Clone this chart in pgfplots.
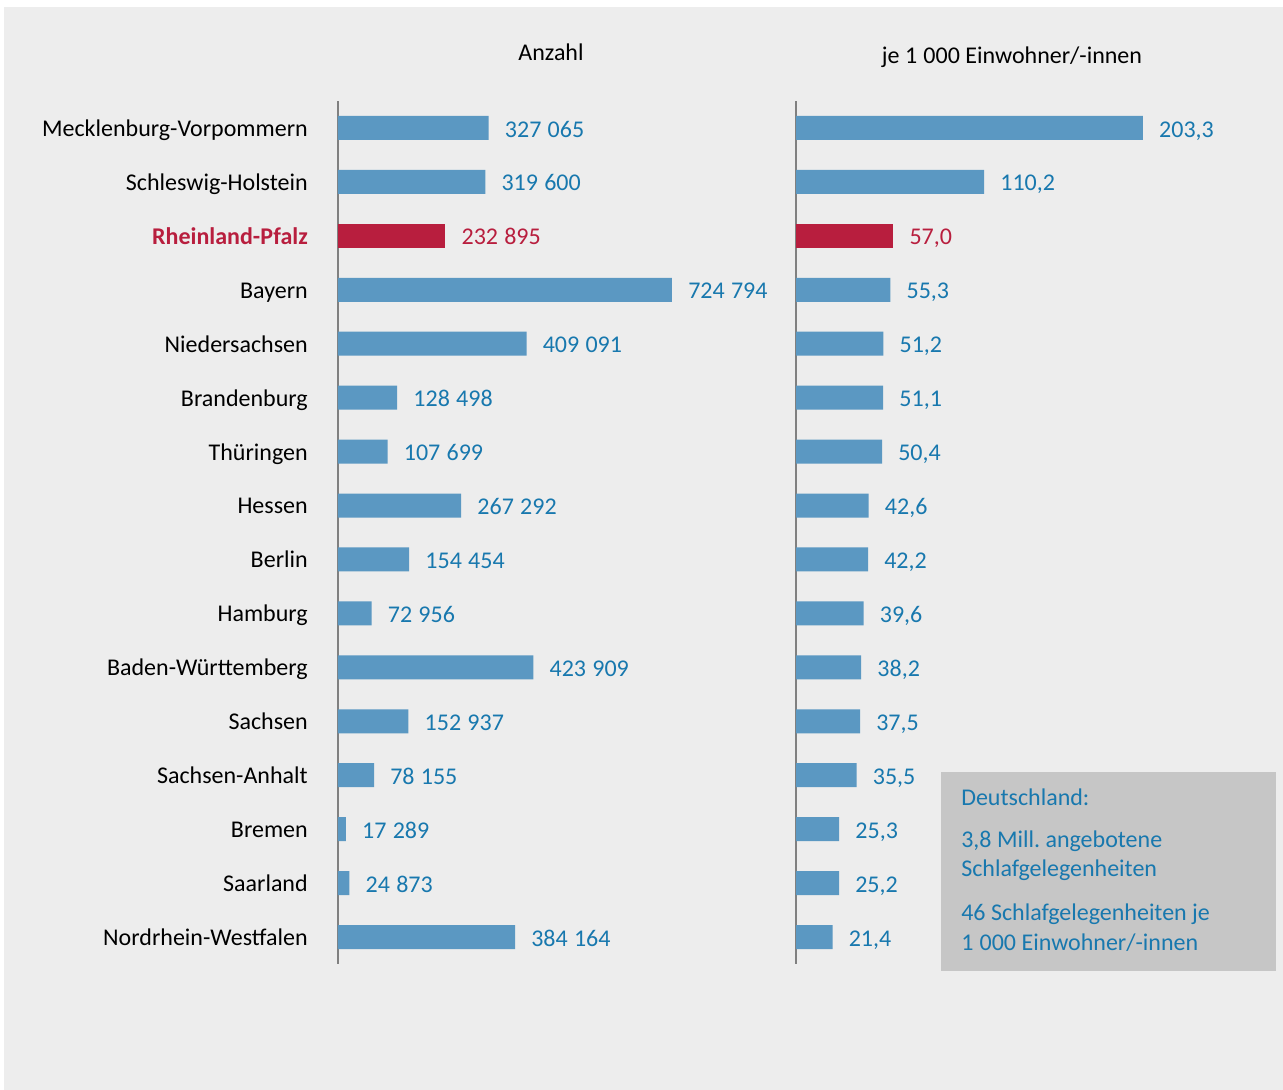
\documentclass[border=0pt]{standalone}
\usepackage{pgfplots}
\usepackage{pgfplotstable}
\pgfplotsset{compat=1.18}
\usepackage{fontspec}
\setmainfont{Carlito}
\newcommand{\ts}{\hspace{0.26em}}
\definecolor{bg}{HTML}{EDEDED}
\definecolor{barblue}{HTML}{5B98C2}
\definecolor{lblblue}{HTML}{1878AE}
\definecolor{rpred}{HTML}{B81E3E}
\definecolor{boxgray}{HTML}{C6C6C6}
\definecolor{axgray}{HTML}{808080}
\pgfplotstableread{
x y lab
327065 0 {327\ts065}
319600 1 {319\ts600}
724794 3 {724\ts794}
409091 4 {409\ts091}
128498 5 {128\ts498}
107699 6 {107\ts699}
267292 7 {267\ts292}
154454 8 {154\ts454}
72956 9 {72\ts956}
423909 10 {423\ts909}
152937 11 {152\ts937}
78155 12 {78\ts155}
17289 13 {17\ts289}
24873 14 {24\ts873}
384164 15 {384\ts164}
}\leftblue
\pgfplotstableread{
x y lab
232895 2 {232\ts895}
}\leftred
\pgfplotstableread{
x y lab
203.3 0 {203,3}
110.2 1 {110,2}
55.3 3 {55,3}
51.2 4 {51,2}
51.1 5 {51,1}
50.4 6 {50,4}
42.6 7 {42,6}
42.2 8 {42,2}
39.6 9 {39,6}
38.2 10 {38,2}
37.5 11 {37,5}
35.5 12 {35,5}
25.3 13 {25,3}
25.2 14 {25,2}
21.4 15 {21,4}
}\rightblue
\pgfplotstableread{
x y lab
57.0 2 {57,0}
}\rightred
\begin{document}
\frenchspacing
\fontsize{18}{21}\selectfont
\begin{tikzpicture}
\begin{scope}[x=0.75pt,y=0.75pt]
\fill[white] (0,0) rectangle (1283,1090);
\fill[bg] (4,0) rectangle (1283,1083);
\fill[boxgray] (941,119) rectangle (1276,318);
\node[inner sep=0pt] at (551,1038) {Anzahl};
\node[inner sep=0pt] at (1012,1033) {je 1\ts000 Einwohner/-innen};
\begin{scope}[every node/.style={anchor=west,inner sep=0pt,text=lblblue}]
\node at (961,293) {Deutschland:};
\node at (961,249) {3,8 Mill. angebotene};
\node at (961,220) {Schlafgelegenheiten};
\node at (961,176) {46 Schlafgelegenheiten je};
\node at (961,147) {1\ts000 Einwohner/-innen};
\end{scope}
\end{scope}
\pgfplotsset{common/.style={
  anchor=south west, scale only axis, height=647.25pt,
  ymin=-0.5, ymax=15.5, y dir=reverse,
  axis x line=none, axis y line*=left,
  y axis line style={-, draw=axgray, line width=1.5pt},
  ytick={0,...,15}, major tick length=0pt,
  yticklabel style={anchor=base east, inner sep=0pt, xshift=-22.5pt, yshift=-6.3pt},
  xbar, bar width=18pt, bar shift=0pt,
  point meta=explicit symbolic,
  nodes near coords={\pgfplotspointmeta},
  nodes near coords style={anchor=base west, inner sep=0pt, xshift=12pt, yshift=-6.8pt, text=lblblue},
}}
\begin{axis}[common,
  at={(253.5pt,94.5pt)}, width=276.5pt,
  xmin=0, xmax=800000,
  yticklabels={Mecklenburg-Vorpommern, Schleswig-Holstein, {\bfseries\color{rpred}Rheinland-Pfalz}, Bayern, Niedersachsen, Brandenburg, Thüringen, Hessen, Berlin, Hamburg, Baden-Württemberg, Sachsen, Sachsen-Anhalt, Bremen, Saarland, Nordrhein-Westfalen},
]
\addplot[fill=barblue, draw=none] table[x=x, y=y, meta=lab] {\leftblue};
\addplot[fill=rpred, draw=none, every node near coord/.append style={text=rpred}] table[x=x, y=y, meta=lab] {\leftred};
\end{axis}
\begin{axis}[common,
  at={(597pt,94.5pt)}, width=281.6pt,
  xmin=0, xmax=220,
  yticklabels={},
]
\addplot[fill=barblue, draw=none] table[x=x, y=y, meta=lab] {\rightblue};
\addplot[fill=rpred, draw=none, every node near coord/.append style={text=rpred}] table[x=x, y=y, meta=lab] {\rightred};
\end{axis}
\end{tikzpicture}
\end{document}
